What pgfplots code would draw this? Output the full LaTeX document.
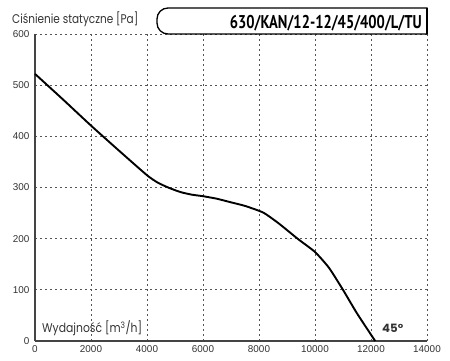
\documentclass[border=0pt]{standalone}
\usepackage{pgfplots}
\pgfplotsset{compat=1.18}
\usepackage{fontspec}
\setmainfont{Liberation Sans}
\newfontfamily\pop{Poppins}
\newfontfamily\pts{PT Sans}
\definecolor{axgray}{HTML}{444444}
\definecolor{gridgray}{HTML}{555555}
\definecolor{txtgray}{HTML}{333333}
\begin{document}
\begin{tikzpicture}
\begin{axis}[
  at={(0,0)}, anchor=south west,
  scale only axis, width=392pt, height=307pt,
  xmin=0, xmax=14000, ymin=0, ymax=600,
  xtick={0,2000,...,14000}, ytick={0,100,...,600},
  axis lines=left,
  axis line style={-, axgray, line width=1.8pt},
  major tick length=0pt,
  grid=major,
  grid style={gridgray, line width=0.9pt, dash pattern=on 1.6pt off 3.4pt},
  /pgf/number format/assume math mode=true,
  /pgf/number format/1000 sep={},
  scaled x ticks=false,
  tick label style={font=\fontsize{9.9}{11}\selectfont, text=txtgray},
  yticklabel style={xshift=-2pt},
  xticklabel style={yshift=-1pt},
  clip=false,
]
\addplot[black, line width=1.9pt, line join=round, smooth, tension=0.35] coordinates {
 (0,522) (1000,472) (2000,421) (3000,372) (4000,324) (4400,309) (4800,299)
 (5200,291) (5600,286) (6000,283) (6500,278) (7000,271) (7500,264)
 (8150,251) (8700,230) (9400,199) (10000,174) (10500,143) (11000,100)
 (11500,54) (12150,0)
};
\end{axis}
% title box
\draw[black, line width=1.3pt, fill=white, rounded corners=11pt]
  (392pt,307pt) -- (122pt,307pt) -- (122pt,333pt) [sharp corners] -- (392pt,333pt) -- cycle;
\draw[black, line width=1.3pt] (392pt,307pt) -- (392pt,333pt);
\node[anchor=base east, inner sep=0pt] at (387pt,312pt)
  {\resizebox{192pt}{\height}{\pts\bfseries\fontsize{18.5}{20}\selectfont 630/KAN/12-12/45/400/L/TU}};
\node[anchor=base west, inner sep=0pt, text=txtgray] at (-23pt,317pt)
  {\resizebox{126pt}{\height}{\pop\fontsize{12.6}{14}\selectfont Ciśnienie statyczne [Pa]}};
\node[anchor=base west, inner sep=0pt, text=txtgray] at (7pt,8pt)
  {\resizebox{100pt}{\height}{\pop\fontsize{12.6}{14}\selectfont Wydajność [m\textsuperscript{3}/h]}};
\node[anchor=base west, inner sep=0pt, text=txtgray] at (347pt,8pt)
  {\resizebox{21pt}{\height}{\pop\bfseries\fontsize{11.5}{13}\selectfont 45°}};
\pgfresetboundingbox
\path (-35pt,-20pt) rectangle (415pt,341pt);
\end{tikzpicture}
\end{document}
